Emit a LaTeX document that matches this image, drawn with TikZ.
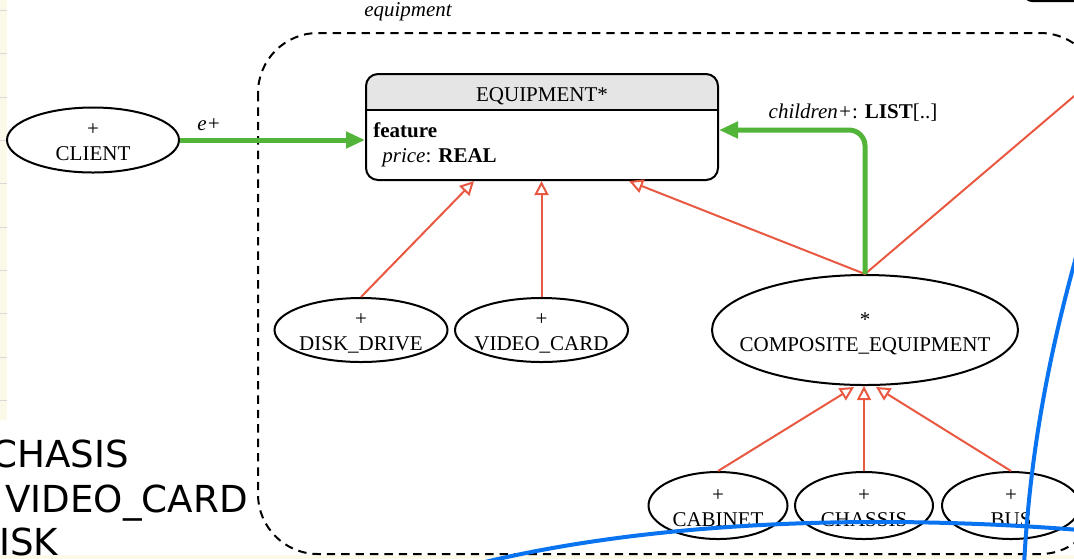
\documentclass[tikz,border=0pt]{standalone}
\usepackage{fontspec}
\setmainfont{Liberation Serif}
\newfontfamily\verd{DejaVu Sans}
\usetikzlibrary{shapes.geometric,arrows.meta,calc}
\definecolor{inh}{RGB}{233,89,66}
\definecolor{assoc}{RGB}{82,180,56}
\definecolor{hdr}{RGB}{229,229,229}
\definecolor{penblue}{RGB}{10,116,240}
\definecolor{cream}{RGB}{253,249,232}
\begin{document}
\begin{tikzpicture}[x=0.5pt,y=-0.5pt,
  every node/.style={font=\fontsize{10.5}{12.5}\selectfont},
  cls/.style={ellipse,draw,line width=1pt,inner sep=0pt},
  lbl/.style={align=center,inner sep=0pt},
  inhline/.style={draw=inh,line width=1pt,-{Triangle[open,length=7pt,width=7pt]}},
  assocline/.style={draw=assoc,line width=2.5pt,-{Triangle[length=9.5pt,width=8pt]}},
  penline/.style={draw=penblue,line width=2pt,line cap=round},
  overlay text/.style={font=\verd\fontsize{18.6}{22}\selectfont,anchor=base west,inner sep=0pt}
]
\useasboundingbox (0,0) rectangle (1074,559);
\fill[white] (0,0) rectangle (1074,559);
% editor strip on the left and bottom
\fill[cream] (0,0) rectangle (7,420);
\fill[cream] (0,555) rectangle (1074,559);
\foreach \yy in {10,53,97,140,183,227,270,313,357,400}
  \draw[black!15,line width=0.5pt] (0,\yy) -- (7,\yy);
% top-right box fragment
\draw[line width=1.2pt,rounded corners=5pt] (1023,-30) -- (1023,1) -- (1090,1);
% cluster
\draw[dashed,dash pattern=on 4.2pt off 3pt,line width=1pt,rounded corners=30pt]
  (258,33) rectangle (1100,554);
\node[font=\itshape\fontsize{10.5}{12.5}\selectfont] (clusterlbl) at (408,12) {equipment};
% EQUIPMENT class box
\begin{scope}
  \clip[rounded corners=6pt] (366,74) rectangle (718,180);
  \fill[hdr] (366,74) rectangle (718,110);
\end{scope}
\node[draw,line width=1pt,rounded corners=6pt,minimum width=176pt,minimum height=53pt,inner sep=0pt] (equip) at (542,127) {};
\draw[line width=1pt] (366,110) -- (718,110);
\node (eqtitle) at (542,96) {EQUIPMENT*};
\node[anchor=base west,inner sep=0pt] (feat) at (373,137) {\textbf{feature}};
\node[anchor=base west,inner sep=0pt] (price) at (382,162) {\textit{price}: \textbf{REAL}};
% client
\node[cls,minimum width=86pt,minimum height=32.5pt] (client) at (93,140) {};
\node[lbl] (clientT) at ($(client)+(0,2)$) {+\\CLIENT};
% leaf classes
\node[cls,minimum width=86.5pt,minimum height=32pt] (dd) at (361,330) {};
\node[lbl] (ddT) at ($(dd)+(0,3)$) {+\\DISK\_DRIVE};
\node[cls,minimum width=86.5pt,minimum height=32pt] (vc) at (541.5,330) {};
\node[lbl] (vcT) at ($(vc)+(0,3)$) {+\\VIDEO\_CARD};
\node[cls,minimum width=153pt,minimum height=55pt] (comp) at (865,330) {};
\node[lbl] (compT) at ($(comp)+(0,3.5)$) {*\\COMPOSITE\_EQUIPMENT};
\node[cls,minimum width=69.5pt,minimum height=33.5pt] (cab) at (718,505.5) {};
\node[lbl] (cabT) at ($(cab)+(0,3)$) {+\\CABINET};
\node[cls,minimum width=69pt,minimum height=33.5pt] (chs) at (864,505.5) {};
\node[lbl] (chsT) at ($(chs)+(0,3)$) {+\\CHASSIS};
\node[cls,minimum width=69pt,minimum height=33.5pt] (bus) at (1011,505.5) {};
\node[lbl] (busT) at ($(bus)+(0,3)$) {+\\BUS};
% coordinates
\coordinate (eqA) at ($(equip.south west)+(109,0)$);
\coordinate (eqC) at ($(equip.south west)+(264,0)$);
\coordinate (offp) at (1180,6);
\coordinate (compL) at ($(comp.south)+(-11,1)$);
\coordinate (compR) at ($(comp.south)+(11,1)$);
% inheritance
\draw[inhline] (dd.north) -- (eqA);
\draw[inhline] (vc.north) -- (vc.north |- equip.south);
\draw[inhline] (comp.north) -- (eqC);
\draw[draw=inh,line width=1pt] (comp.north) -- (offp);
\draw[inhline] (cab.north) -- (compL);
\draw[inhline] (chs.north) -- (chs.north |- comp.south);
\draw[inhline] (bus.north) -- (compR);
% associations
\draw[assocline] (client.east) -- (client.east -| equip.west);
\node[font=\itshape\fontsize{10.5}{12.5}\selectfont] (elbl) at (209,125) {e+};
\draw[assocline,rounded corners=8pt] (comp.north) |- ($(equip.east)+(0,3)$);
\node (chlbl) at (853,113) {\textit{children+}: \textbf{LIST}[..]};
% overlay texts
\node[overlay text] (t1) at (-9,467) {CHASIS};
\node[overlay text] (t2) at (5,512) {VIDEO\_CARD};
\node[overlay text] (t3) at (-1,555) {ISK};
% pen strokes
\draw[penline] (485,562) .. controls (640,525) and (850,512) .. (1080,530);
\draw[penline] (1078,250) .. controls (1050,350) and (1030,450) .. (1024,565);
\end{tikzpicture}
\end{document}
